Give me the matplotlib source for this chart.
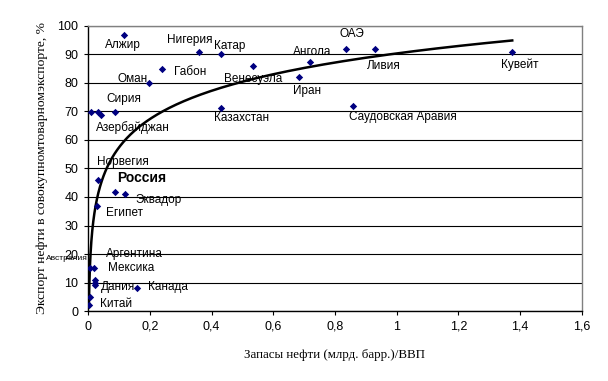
import numpy as np
import matplotlib

matplotlib.use("Agg")
import matplotlib.pyplot as plt
from matplotlib.ticker import FuncFormatter, MultipleLocator

# Data
countries = [
    "Алжир", "Нигерия", "Катар", "Габон", "Оман", "Венесуэла", "Иран",
    "Казахстан", "Сирия", "", "Азербайджан", "", "Ангола", "ОАЭ", "Ливия",
    "Саудовская Аравия", "Кувейт", "Норвегия", "Россия", "Эквадор", "Египет",
    "Австралия", "Мексика", "Аргентина", "", "Дания", "Канада", "", "Китай",
]
reserves_gdp = [
    0.117, 0.358, 0.429, 0.240, 0.197, 0.534, 0.684,
    0.429, 0.086, 0.009, 0.031, 0.042, 0.719, 0.836, 0.930,
    0.858, 1.375, 0.030, 0.087, 0.119, 0.028,
    0.006, 0.018, 0.022, 0.022, 0.023, 0.159, 0.004, 0.002,
]
oil_export_share = [
    96.8, 90.8, 90.1, 84.9, 80.1, 86.1, 82.2,
    71.3, 69.9, 69.7, 69.9, 68.9, 87.3, 91.9, 91.9,
    71.9, 90.8, 46.0, 41.9, 40.9, 37.0,
    15.1, 15.1, 10.9, 9.7, 9.1, 8.1, 5.0, 2.1,
]

# label offsets in pixels (left edge / vertical centre of text relative to point)
label_offsets = {
    "Алжир": (-19, -10), "Нигерия": (-32, 12), "Катар": (-7, 8),
    "Габон": (12, -3), "Оман": (-32, 4), "Венесуэла": (-29, -13),
    "Иран": (-6, -14), "Казахстан": (-7, -10), "Сирия": (-8, 13),
    "Азербайджан": (-2, -16), "Ангола": (-17, 10), "ОАЭ": (-7, 15),
    "Ливия": (-8, -17), "Саудовская Аравия": (-4, -11), "Кувейт": (-11, -13),
    "Норвегия": (-1, 18), "Россия": (2, 14), "Эквадор": (10, -6),
    "Египет": (9, -7), "Австралия": (-44, 9), "Мексика": (14, 0),
    "Аргентина": (11, 26), "Дания": (6, -2), "Канада": (11, 1), "Китай": (11, 1),
}

x = np.array(reserves_gdp)
y = np.array(oil_export_share)

fig = plt.figure(figsize=(6.08, 3.81), dpi=100)
ax = fig.add_axes([0.1452, 0.1837, 0.8114, 0.7481])

# horizontal grid
ax.set_axisbelow(True)
ax.yaxis.grid(True, color="black", linewidth=0.8)

# logarithmic trendline fitted to the data (Excel-style)
a, b = np.polyfit(np.log(x), y, 1)
xs = np.geomspace(x.min(), x.max(), 400)
ax.plot(xs, a * np.log(xs) + b, color="black", linewidth=1.8, zorder=3)

ax.scatter(x, y, marker="D", s=14, color="#000080", linewidths=0, zorder=4)

for name, xi, yi in zip(countries, x, y):
    if not name:
        continue
    dx, dy = label_offsets[name]
    kw = dict(fontsize=8.5, family="Liberation Sans")
    if name == "Россия":
        kw = dict(fontsize=10, family="Liberation Sans", fontweight="bold")
    elif name == "Австралия":
        kw = dict(fontsize=6, family="Liberation Sans")
    ax.annotate(name, (xi, yi), xytext=(dx, dy), textcoords="offset pixels",
                ha="left", va="center", zorder=5, **kw)

ax.set_xlim(0, 1.6)
ax.set_ylim(0, 100)
ax.xaxis.set_major_locator(MultipleLocator(0.2))
ax.yaxis.set_major_locator(MultipleLocator(10))
ax.xaxis.set_major_formatter(
    FuncFormatter(lambda v, p: f"{v:.1f}".rstrip("0").rstrip(".").replace(".", ","))
)

for side in ["top", "right"]:
    ax.spines[side].set_color("#808080")
for side in ["left", "bottom"]:
    ax.spines[side].set_color("black")
for s in ax.spines.values():
    s.set_linewidth(1)

ax.tick_params(direction="out", length=3, width=0.8, labelsize=9, pad=4)
for lbl in ax.get_xticklabels() + ax.get_yticklabels():
    lbl.set_family("Liberation Sans")

ax.set_xlabel("Запасы нефти (млрд. барр.)/ВВП", family="Liberation Serif",
              fontsize=9.3, labelpad=12)
ax.set_ylabel("Экспорт нефти в совокупномтоварномэкспорте, %",
              family="Liberation Serif", fontsize=9.7, labelpad=7)

fig.savefig("out.png", dpi=100, facecolor="white")
